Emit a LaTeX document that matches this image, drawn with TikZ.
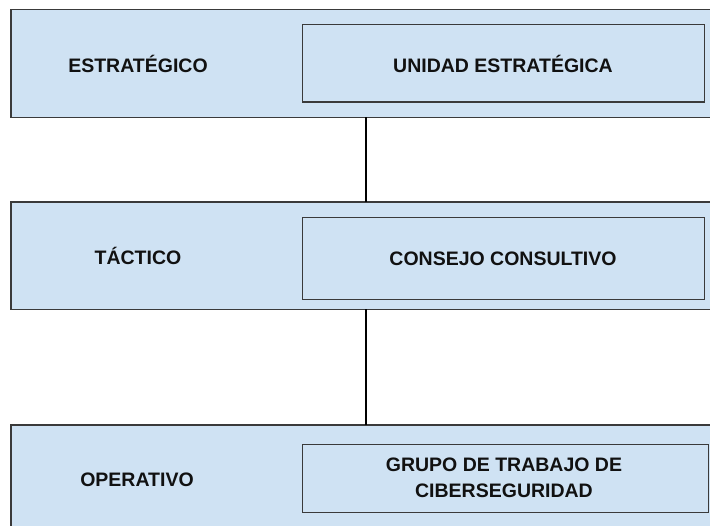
\documentclass[tikz,border=0pt]{standalone}
\usepackage{fontspec}
\setmainfont{Liberation Sans}
\definecolor{boxfill}{HTML}{CFE2F3}
\definecolor{boxline}{HTML}{3A3A3A}
\definecolor{txt}{HTML}{111111}
\begin{document}
\begin{tikzpicture}[x=1pt,y=-1pt,
  outerbox/.style={draw=boxline,fill=boxfill,line width=1.3pt,inner sep=0pt,outer sep=0pt,anchor=north west},
  innerbox/.style={draw=boxline,line width=1.2pt,inner sep=0pt,outer sep=0pt,anchor=north west},
  lvl/.style={font=\fontsize{19.5}{25.5}\selectfont\bfseries,text=txt,inner sep=0pt},
  conn/.style={draw=black,line width=1.5pt}]
\useasboundingbox (0,0) rectangle (710,526);
\clip (0,0) rectangle (710,526);
\fill[white] (0,0) rectangle (710,526);
% outer level boxes
\node[outerbox,minimum width=710pt,minimum height=108pt] (o1) at (11,9.5) {};
\node[outerbox,minimum width=710pt,minimum height=107.5pt] (o2) at (11,202) {};
\node[outerbox,minimum width=710pt,minimum height=110pt] (o3) at (11,425) {};
% inner boxes
\node[innerbox,minimum width=402pt,minimum height=77.5pt] (i1) at (302.7,24.5) {};
\node[innerbox,minimum width=402pt,minimum height=82pt] (i2) at (302.7,217.3) {};
\node[innerbox,minimum width=406pt,minimum height=68pt] (i3) at (302.7,444.6) {};
% texts
\node[lvl] (t1) at (138,64) {ESTRATÉGICO};
\node[lvl] (t2) at (138,256) {TÁCTICO};
\node[lvl] (t3) at (137,480) {OPERATIVO};
\node[lvl] (u1) at (503,64) {UNIDAD ESTRATÉGICA};
\node[lvl] (u2) at (503,259) {CONSEJO CONSULTIVO};
\node[lvl,align=center] (u3) at (504,478) {GRUPO DE TRABAJO DE\\CIBERSEGURIDAD};
% connectors
\coordinate (c1) at (366,117.5);
\coordinate (c2) at (366,309.5);
\draw[conn] (c1) -- (c1 |- o2.north);
\draw[conn] (c2) -- (c2 |- o3.north);
\end{tikzpicture}
\end{document}
